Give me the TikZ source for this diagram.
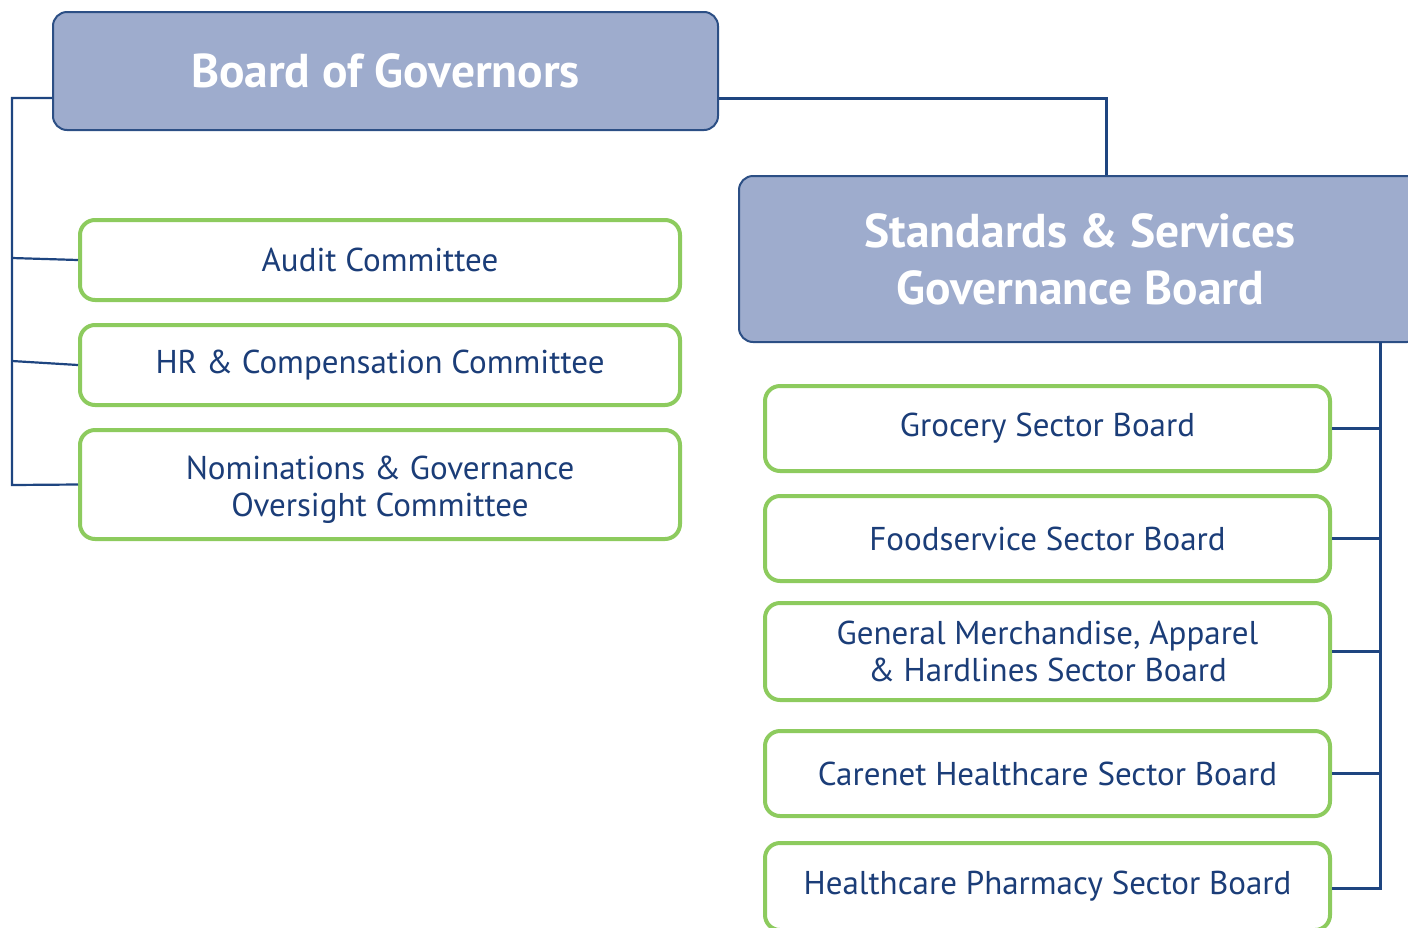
\documentclass[tikz,border=0pt]{standalone}
\usepackage{fontspec}
\setmainfont{PT Sans}
\definecolor{hdrfill}{HTML}{9EACCD}
\definecolor{hdrline}{HTML}{2C4F85}
\definecolor{conn}{HTML}{1E4580}
\definecolor{txtblue}{HTML}{1B3D78}
\definecolor{boxgreen}{HTML}{8DCB5E}
\tikzset{
  hdr/.style={draw=hdrline, line width=2pt, fill=hdrfill, rounded corners=14pt,
    text=white, font=\fontsize{47.5}{57}\selectfont\bfseries, align=center, inner sep=0pt},
  gbox/.style={draw=boxgreen, line width=4pt, fill=white, rounded corners=15pt,
    text=txtblue, font=\fontsize{33}{37}\selectfont, align=center, inner sep=0pt},
  gtext/.style={text=txtblue, font=\fontsize{33}{37}\selectfont, align=center, inner sep=0pt},
  link/.style={draw=conn, line width=3pt},
  thinlink/.style={draw=conn, line width=2.2pt},
}
\begin{document}
\begin{tikzpicture}[x=1pt,y=-1pt]
\useasboundingbox (0,0) rectangle (1408,927);
\clip (0,0) rectangle (1408,927);
% headers
\node[hdr, minimum width=665, minimum height=118] (bog) at (385.5,71) {Board of Governors};
\node[hdr, minimum width=682, minimum height=166] (ssgb) at (1080,259) {Standards \& Services\\Governance Board};
% left committees
\node[gbox, minimum width=600, minimum height=80] (audit) at (380,260) {Audit Committee};
\node[gbox, minimum width=600, minimum height=80] (hr) at (380,365) {HR \& Compensation Committee};
\node[gbox, minimum width=600, minimum height=109] (nom) at (380,484.5) {};
\node[gtext] (nomtxt) at (380,490) {Nominations \& Governance\\Oversight Committee};
% right sector boards
\node[gbox, minimum width=565, minimum height=85] (groc) at (1047.5,428.5) {Grocery Sector Board};
\node[gbox, minimum width=565, minimum height=85] (food) at (1047.5,538.5) {Foodservice Sector Board};
\node[gbox, minimum width=565, minimum height=97] (gm) at (1047.5,651.5) {General Merchandise, Apparel\\\& Hardlines Sector Board};
\node[gbox, minimum width=565, minimum height=85] (care) at (1047.5,773.5) {Carenet Healthcare Sector Board};
\node[gbox, minimum width=565, minimum height=87] (health) at (1047.5,886.5) {Healthcare Pharmacy Sector Board};
% left connectors
\coordinate (lt) at (12,98);
\coordinate (la) at (12,258);
\coordinate (lh) at (12,361);
\coordinate (ln) at (12,485);
\draw[thinlink] (bog.west |- lt) -- (lt) -- (ln) -- (nom.west);
\draw[thinlink] (la) -- (audit.west);
\draw[thinlink] (lh) -- (hr.west);
% top-right connector
\coordinate (rt) at (1106,98);
\draw[link] (bog.east |- rt) -- (rt) -- (rt |- ssgb.north);
% right connectors
\coordinate (rb) at (1380,342);
\coordinate (rh) at (1380,888);
\draw[link] (rb) -- (rh) -- (health.east |- rh);
\draw[link] (groc.east) -- (groc.east -| rb);
\draw[link] (food.east) -- (food.east -| rb);
\draw[link] (gm.east) -- (gm.east -| rb);
\draw[link] (care.east) -- (care.east -| rb);
\end{tikzpicture}
\end{document}
